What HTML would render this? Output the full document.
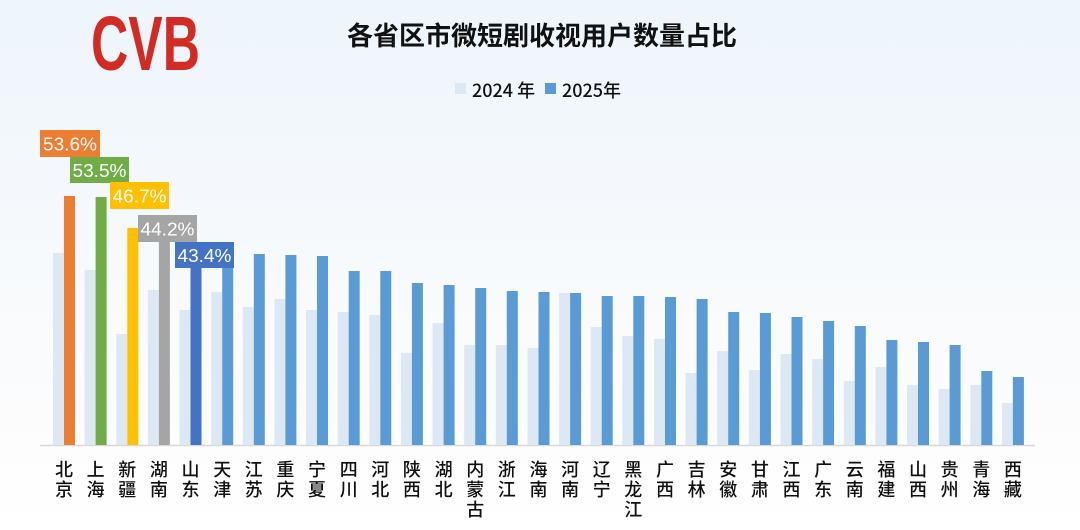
<!DOCTYPE html>
<html><head><meta charset="utf-8"><style>
html,body{margin:0;padding:0;width:1080px;height:530px;overflow:hidden;background:#fff}
svg{display:block}
text{font-family:"Liberation Sans","Noto Sans CJK SC",sans-serif}
</style></head><body>
<svg width="1080" height="530" viewBox="0 0 1080 530" xmlns="http://www.w3.org/2000/svg">
<defs><linearGradient id="bg" x1="0" y1="0" x2="0" y2="1"><stop offset="0" stop-color="#eef5fb"/><stop offset="0.85" stop-color="#fdfdfd"/><stop offset="1" stop-color="#ffffff"/></linearGradient></defs>
<rect width="1080" height="530" fill="url(#bg)"/>
<!-- logo -->
<text x="91" y="58" font-size="56" font-weight="bold" fill="#d42a24" textLength="109" lengthAdjust="spacingAndGlyphs" transform="translate(0,-9.5) scale(1,1.37)" style="font-family:'Liberation Sans',sans-serif">CVB</text>
<text x="542" y="45" font-size="26" font-weight="bold" fill="#111" text-anchor="middle" style="font-family:'Noto Sans CJK SC',sans-serif">各省区市微短剧收视用户数量占比</text>
<!-- legend -->
<rect x="455" y="83" width="11" height="11" fill="#dde8f5"/>
<text x="472" y="97" font-size="18" font-weight="500" fill="#111" style="font-family:'Noto Sans CJK SC',sans-serif">2024 年</text>
<rect x="545" y="83" width="11" height="11" fill="#5b9bd5"/>
<text x="562" y="97" font-size="18" font-weight="500" fill="#111" style="font-family:'Noto Sans CJK SC',sans-serif">2025年</text>
<line x1="40" y1="445.5" x2="1035" y2="445.5" stroke="#d9d9d9" stroke-width="1.5"/>
<g fill="#dde8f5">
<rect x="53" y="253" width="11" height="192"/>
<rect x="84.6" y="270" width="11" height="175"/>
<rect x="116.3" y="334" width="11" height="111"/>
<rect x="147.9" y="290" width="11" height="155"/>
<rect x="179.5" y="310" width="11" height="135"/>
<rect x="211.2" y="292" width="11" height="153"/>
<rect x="242.8" y="307" width="11" height="138"/>
<rect x="274.4" y="299" width="11" height="146"/>
<rect x="306" y="310" width="11" height="135"/>
<rect x="337.7" y="312" width="11" height="133"/>
<rect x="369.3" y="315" width="11" height="130"/>
<rect x="400.9" y="353" width="11" height="92"/>
<rect x="432.6" y="323" width="11" height="122"/>
<rect x="464.2" y="345" width="11" height="100"/>
<rect x="495.8" y="345" width="11" height="100"/>
<rect x="527.5" y="348" width="11" height="97"/>
<rect x="559.1" y="293" width="11" height="152"/>
<rect x="590.7" y="327" width="11" height="118"/>
<rect x="622.3" y="336" width="11" height="109"/>
<rect x="654" y="339" width="11" height="106"/>
<rect x="685.6" y="373" width="11" height="72"/>
<rect x="717.2" y="351" width="11" height="94"/>
<rect x="748.9" y="370" width="11" height="75"/>
<rect x="780.5" y="354" width="11" height="91"/>
<rect x="812.1" y="359" width="11" height="86"/>
<rect x="843.8" y="381" width="11" height="64"/>
<rect x="875.4" y="367" width="11" height="78"/>
<rect x="907" y="385" width="11" height="60"/>
<rect x="938.6" y="389" width="11" height="56"/>
<rect x="970.3" y="385" width="11" height="60"/>
<rect x="1001.9" y="403" width="11" height="42"/>
</g>
<rect x="64" y="196" width="11" height="249" fill="#ed7d31"/>
<rect x="95.6" y="197" width="11" height="248" fill="#70ad47"/>
<rect x="127.3" y="228" width="11" height="217" fill="#ffc000"/>
<rect x="158.9" y="240" width="11" height="205" fill="#a5a5a5"/>
<rect x="190.5" y="243" width="11" height="202" fill="#4472c4"/>
<g fill="#5b9bd5">
<rect x="222.2" y="254" width="11" height="191"/>
<rect x="253.8" y="254" width="11" height="191"/>
<rect x="285.4" y="255" width="11" height="190"/>
<rect x="317" y="256" width="11" height="189"/>
<rect x="348.7" y="271" width="11" height="174"/>
<rect x="380.3" y="271" width="11" height="174"/>
<rect x="411.9" y="283" width="11" height="162"/>
<rect x="443.6" y="285" width="11" height="160"/>
<rect x="475.2" y="288" width="11" height="157"/>
<rect x="506.8" y="291" width="11" height="154"/>
<rect x="538.5" y="292" width="11" height="153"/>
<rect x="570.1" y="293" width="11" height="152"/>
<rect x="601.7" y="296" width="11" height="149"/>
<rect x="633.3" y="296" width="11" height="149"/>
<rect x="665" y="297" width="11" height="148"/>
<rect x="696.6" y="299" width="11" height="146"/>
<rect x="728.2" y="312" width="11" height="133"/>
<rect x="759.9" y="313" width="11" height="132"/>
<rect x="791.5" y="317" width="11" height="128"/>
<rect x="823.1" y="321" width="11" height="124"/>
<rect x="854.8" y="326" width="11" height="119"/>
<rect x="886.4" y="340" width="11" height="105"/>
<rect x="918" y="342" width="11" height="103"/>
<rect x="949.6" y="345" width="11" height="100"/>
<rect x="981.3" y="371" width="11" height="74"/>
<rect x="1012.9" y="377" width="11" height="68"/>
</g>
<!-- value labels -->
<g font-size="18.5" fill="#fff" text-anchor="middle">
<rect x="40" y="130" width="60" height="27" fill="#ed7d31"/><text x="70" y="150.5" textLength="54" lengthAdjust="spacingAndGlyphs">53.6%</text>
<rect x="70" y="157" width="59" height="26" fill="#70ad47"/><text x="99.5" y="177" textLength="54" lengthAdjust="spacingAndGlyphs">53.5%</text>
<rect x="110" y="182" width="59" height="27" fill="#ffc000"/><text x="139.5" y="202.5" textLength="54" lengthAdjust="spacingAndGlyphs">46.7%</text>
<rect x="138" y="215" width="59" height="27" fill="#a5a5a5"/><text x="167.5" y="235.5" textLength="54" lengthAdjust="spacingAndGlyphs">44.2%</text>
<rect x="175" y="242" width="59" height="26" fill="#4472c4"/><text x="204.5" y="262" textLength="54" lengthAdjust="spacingAndGlyphs">43.4%</text>
</g>
<!-- category labels -->
<g font-size="18" font-weight="500" fill="#111" text-anchor="middle" style="font-family:'Noto Sans CJK SC',sans-serif">
<text x="64" y="476">北<tspan x="64" dy="20">京</tspan></text>
<text x="95.6" y="476">上<tspan x="95.6" dy="20">海</tspan></text>
<text x="127.3" y="476">新<tspan x="127.3" dy="20">疆</tspan></text>
<text x="158.9" y="476">湖<tspan x="158.9" dy="20">南</tspan></text>
<text x="190.5" y="476">山<tspan x="190.5" dy="20">东</tspan></text>
<text x="222.2" y="476">天<tspan x="222.2" dy="20">津</tspan></text>
<text x="253.8" y="476">江<tspan x="253.8" dy="20">苏</tspan></text>
<text x="285.4" y="476">重<tspan x="285.4" dy="20">庆</tspan></text>
<text x="317" y="476">宁<tspan x="317" dy="20">夏</tspan></text>
<text x="348.7" y="476">四<tspan x="348.7" dy="20">川</tspan></text>
<text x="380.3" y="476">河<tspan x="380.3" dy="20">北</tspan></text>
<text x="411.9" y="476">陕<tspan x="411.9" dy="20">西</tspan></text>
<text x="443.6" y="476">湖<tspan x="443.6" dy="20">北</tspan></text>
<text x="475.2" y="476">内<tspan x="475.2" dy="20">蒙</tspan><tspan x="475.2" dy="20">古</tspan></text>
<text x="506.8" y="476">浙<tspan x="506.8" dy="20">江</tspan></text>
<text x="538.5" y="476">海<tspan x="538.5" dy="20">南</tspan></text>
<text x="570.1" y="476">河<tspan x="570.1" dy="20">南</tspan></text>
<text x="601.7" y="476">辽<tspan x="601.7" dy="20">宁</tspan></text>
<text x="633.3" y="476">黑<tspan x="633.3" dy="20">龙</tspan><tspan x="633.3" dy="20">江</tspan></text>
<text x="665" y="476">广<tspan x="665" dy="20">西</tspan></text>
<text x="696.6" y="476">吉<tspan x="696.6" dy="20">林</tspan></text>
<text x="728.2" y="476">安<tspan x="728.2" dy="20">徽</tspan></text>
<text x="759.9" y="476">甘<tspan x="759.9" dy="20">肃</tspan></text>
<text x="791.5" y="476">江<tspan x="791.5" dy="20">西</tspan></text>
<text x="823.1" y="476">广<tspan x="823.1" dy="20">东</tspan></text>
<text x="854.8" y="476">云<tspan x="854.8" dy="20">南</tspan></text>
<text x="886.4" y="476">福<tspan x="886.4" dy="20">建</tspan></text>
<text x="918" y="476">山<tspan x="918" dy="20">西</tspan></text>
<text x="949.6" y="476">贵<tspan x="949.6" dy="20">州</tspan></text>
<text x="981.3" y="476">青<tspan x="981.3" dy="20">海</tspan></text>
<text x="1012.9" y="476">西<tspan x="1012.9" dy="20">藏</tspan></text>
</g>
</svg>
</body></html>
